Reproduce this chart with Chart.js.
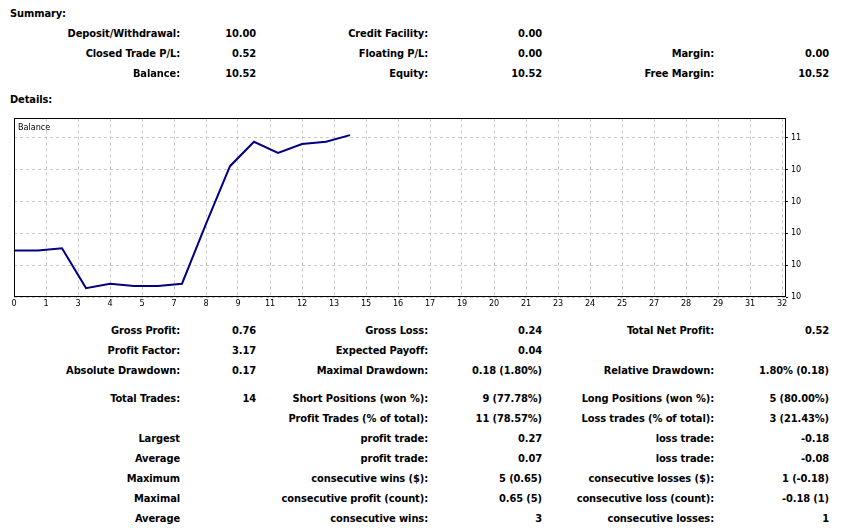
<!DOCTYPE html>
<html>
<head>
<meta charset="utf-8">
<script src="https://cdn.jsdelivr.net/npm/chart.js@4/dist/chart.umd.min.js"></script>
<style>
  body { margin: 0; background: #fff; }
  #page { position: relative; width: 842px; height: 528px; overflow: hidden;
          font-family: "DejaVu Sans Condensed", "DejaVu Sans", sans-serif; font-size: 11px;
          font-weight: bold; color: #000; letter-spacing: -0.1px; }
  .c { position: absolute; white-space: nowrap; line-height: 14px; text-align: right; }
  .h { position: absolute; left: 10px; line-height: 14px; }
  #chartBox { position: absolute; left: 0; top: 110px; width: 842px; height: 210px; }
  #legend { position: absolute; left: 18px; top: 121px; font-weight: normal; font-size: 9px;
            line-height: 12px; color: #000; letter-spacing: 0; }
</style>
</head>
<body>
<div id="page">
  <div class="h" style="top:7px">Summary:</div>
  <div class="h" style="top:93px">Details:</div>
  <div id="chartBox"><canvas id="myChart" width="842" height="210"></canvas></div>
  <div id="legend">Balance</div>
</div>
<script>
// balance after each closed trade (index 0 = initial deposit)
var balance = [10.00, 10.00, 10.01, 9.83, 9.85, 9.84, 9.84, 9.85, 10.12, 10.38, 10.49, 10.44, 10.48, 10.49, 10.52];
var xTickLabels = ['0', '1', '3', '4', '5', '7', '8', '9', '11', '12', '13', '15', '16', '17', '19', '20', '21', '23', '24', '25', '27', '28', '29', '31', '32'];
var yTickLabels = ['10', '10', '10', '10', '10', '11'];

// report rows: y position, then label/value pairs for the three columns
var rows = [
  [33, 'Deposit/Withdrawal:', '10.00', 'Credit Facility:', '0.00', '', ''],
  [53, 'Closed Trade P/L:', '0.52', 'Floating P/L:', '0.00', 'Margin:', '0.00'],
  [73, 'Balance:', '10.52', 'Equity:', '10.52', 'Free Margin:', '10.52'],
  [330, 'Gross Profit:', '0.76', 'Gross Loss:', '0.24', 'Total Net Profit:', '0.52'],
  [350, 'Profit Factor:', '3.17', 'Expected Payoff:', '0.04', '', ''],
  [370, 'Absolute Drawdown:', '0.17', 'Maximal Drawdown:', '0.18 (1.80%)', 'Relative Drawdown:', '1.80% (0.18)'],
  [398, 'Total Trades:', '14', 'Short Positions (won %):', '9 (77.78%)', 'Long Positions (won %):', '5 (80.00%)'],
  [418, '', '', 'Profit Trades (% of total):', '11 (78.57%)', 'Loss trades (% of total):', '3 (21.43%)'],
  [438, 'Largest', '', 'profit trade:', '0.27', 'loss trade:', '-0.18'],
  [458, 'Average', '', 'profit trade:', '0.07', 'loss trade:', '-0.08'],
  [478, 'Maximum', '', 'consecutive wins ($):', '5 (0.65)', 'consecutive losses ($):', '1 (-0.18)'],
  [498, 'Maximal', '', 'consecutive profit (count):', '0.65 (5)', 'consecutive loss (count):', '-0.18 (1)'],
  [518, 'Average', '', 'consecutive wins:', '3', 'consecutive losses:', '1']
];
var colRight = [180, 256, 428, 542, 714, 829];

var page = document.getElementById('page');
rows.forEach(function (r) {
  for (var i = 1; i < r.length; i++) {
    if (!r[i]) continue;
    var d = document.createElement('div');
    d.className = 'c';
    d.textContent = r[i];
    d.style.top = (r[0] - 6) + 'px';
    d.style.right = (842 - colRight[i - 1]) + 'px';
    page.appendChild(d);
  }
});

var yMin = 9.79, yStep = 0.144;
var xStep = 4 / 3;

// black frame round the plot area
var frame = {
  id: 'frame',
  afterDraw: function (chart) {
    var a = chart.chartArea, c = chart.ctx;
    c.save();
    c.strokeStyle = '#000';
    c.lineWidth = 1;
    c.strokeRect(Math.round(a.left) + 0.5, Math.round(a.top) + 0.5, Math.round(a.right - a.left) - 1, Math.round(a.bottom - a.top) - 1);
    c.restore();
  }
};

var ctx = document.getElementById('myChart').getContext('2d');
var chart = new Chart(ctx, {
  type: 'line',
  data: {
    labels: balance.map(function (v, i) { return i; }),
    datasets: [{
      label: 'Balance',
      data: balance.map(function (v, i) { return { x: i, y: v }; }),
      borderColor: '#000080',
      borderWidth: 2,
      pointRadius: 0,
      tension: 0,
      fill: false
    }]
  },
  options: {
    responsive: false,
    animation: false,
    devicePixelRatio: 1,
    layout: { padding: { left: 14, top: 8, right: 0, bottom: 0 } },
    plugins: { legend: { display: false }, tooltip: { enabled: false } },
    scales: {
      x: {
        type: 'linear',
        min: 0,
        max: 32 + 4 / 24,
        afterBuildTicks: function (s) {
          s.ticks = xTickLabels.map(function (l, k) { return { value: k * xStep }; });
        },
        afterFit: function (s) { s.height = 23; },
        ticks: {
          autoSkip: false, maxRotation: 0, padding: 1, color: '#000',
          font: { family: 'DejaVu Sans Condensed', size: 9 },
          callback: function (v, i) { return xTickLabels[i]; }
        },
        grid: { color: '#c8c8c8', drawTicks: false, lineWidth: 1 },
        border: { display: false, dash: [3, 3] }
      },
      y: {
        position: 'right',
        min: yMin,
        max: yMin + yStep * 179 / 32,
        afterBuildTicks: function (s) {
          s.ticks = yTickLabels.map(function (l, k) { return { value: yMin + k * yStep }; });
        },
        afterFit: function (s) { s.width = 56; },
        ticks: {
          padding: 3, color: '#000',
          font: { family: 'DejaVu Sans Condensed', size: 9 },
          callback: function (v, i) { return yTickLabels[i]; }
        },
        grid: { color: '#c8c8c8', tickColor: '#000', tickLength: 2, lineWidth: 1 },
        border: { display: false, dash: [3, 3] }
      }
    }
  },
  plugins: [frame]
});
</script>
</body>
</html>
